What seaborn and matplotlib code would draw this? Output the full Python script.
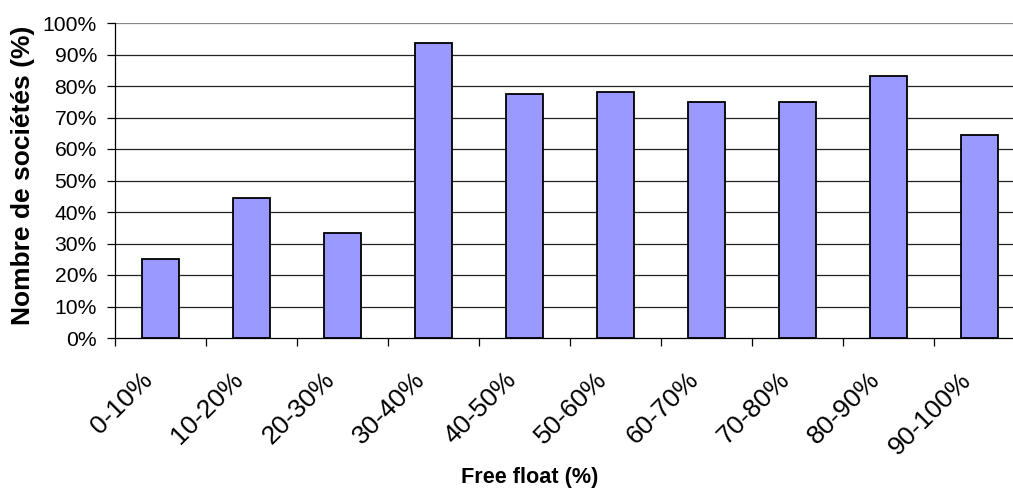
import pandas as pd
import seaborn as sns
import matplotlib.pyplot as plt
import matplotlib.transforms as mtransforms
import numpy as np

tranches = ['0-10%', '10-20%', '20-30%', '30-40%', '40-50%',
            '50-60%', '60-70%', '70-80%', '80-90%', '90-100%']
part_societes = [25.0, 44.4, 33.3, 93.5, 77.5, 78.0, 75.0, 75.0, 83.3, 64.3]
y_ticks = [0, 10, 20, 30, 40, 50, 60, 70, 80, 90, 100]
y_labels = ['0%', '10%', '20%', '30%', '40%', '50%', '60%', '70%', '80%', '90%', '100%']


def myplot():
	sns.set_style('ticks')
	plt.rcParams['font.family'] = ['Liberation Sans', 'DejaVu Sans']
	plt.rcParams['text.color'] = 'black'
	plt.rcParams['xtick.color'] = 'black'
	plt.rcParams['ytick.color'] = 'black'
	df = pd.DataFrame({'tranche': tranches, 'pct': part_societes})

	fig = plt.figure(figsize=(10.13, 4.88), dpi=100)
	ax = fig.add_axes([115/1013, 150/488, 910/1013, 315/488])

	# gridlines first so bars sit on top
	for v in y_ticks[1:]:
		ax.axhline(v, color='#888888' if v == 100 else '#222222', lw=0.9, zorder=0)

	sns.barplot(data=df, x='tranche', y='pct', color='#9999FF', saturation=1,
				width=0.4, edgecolor='black', linewidth=1.3, ax=ax, zorder=2)

	ax.set_xlim(-0.5, 9.5)
	ax.set_ylim(0, 100)
	ax.set_yticks(y_ticks)
	ax.set_yticklabels(y_labels)
	ax.tick_params(axis='y', length=6, width=0.9, color='black', pad=7,
				   direction='out', labelsize=15.2, labelcolor='black')

	ax.set_xticks(range(len(tranches)))
	ax.set_xticklabels(tranches, rotation=45, ha='right',
					   va='center', rotation_mode='anchor')
	ax.set_xticks(np.arange(-0.5, 10.0, 1.0), minor=True)
	ax.tick_params(axis='x', which='major', length=0, pad=27.5, labelsize=19, labelcolor='black')
	ax.tick_params(axis='x', which='minor', length=6, width=0.9, color='black', direction='out')
	shift = mtransforms.ScaledTranslation(-12/100, 0, fig.dpi_scale_trans)
	for lab in ax.get_xticklabels():
		lab.set_transform(lab.get_transform() + shift)

	for s in ['top', 'right']:
		ax.spines[s].set_visible(False)
	for s in ['left', 'bottom']:
		ax.spines[s].set_color('black')
		ax.spines[s].set_linewidth(0.9)

	ax.set_xlabel('')
	ax.set_ylabel('')
	fig.text(530/1013, 1 - 477/488, 'Free float (%)', fontsize=15.6, fontweight='bold',
			 ha='center', va='center')
	fig.text(23/1013, 1 - 175/488, 'Nombre de sociétés (%)', fontsize=19, fontweight='bold',
			 rotation=90, ha='center', va='center')

	plt.savefig('out.png', dpi=100)


myplot()
